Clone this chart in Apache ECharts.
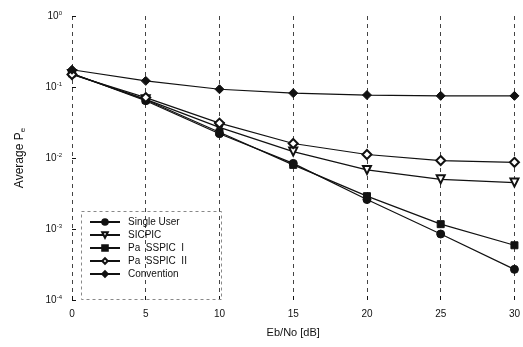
<!DOCTYPE html>
<html>
<head>
<meta charset="utf-8">
<script src="https://cdn.jsdelivr.net/npm/echarts@6/dist/echarts.min.js"></script>
<style>
    html, body { margin: 0; padding: 0; background: #fff; }
    #chart { width: 523px; height: 347px; }
</style>
</head>
<body>
<div id="chart"></div>
<script>
// Eb/No 取值
var snr = [0, 5, 10, 15, 20, 25, 30];
// 各曲线平均误码率
var singleUser = [0.155, 0.064, 0.022, 0.0084, 0.0026, 0.00085, 0.00027];
var sicpic = [0.152, 0.067, 0.027, 0.0123, 0.0068, 0.0050, 0.0045];
var paSspic1 = [0.155, 0.066, 0.023, 0.0080, 0.0029, 0.00117, 0.00059];
var paSspic2 = [0.150, 0.071, 0.031, 0.016, 0.0112, 0.0092, 0.0087];
var conventional = [0.175, 0.122, 0.093, 0.082, 0.077, 0.075, 0.075];
var names = ['Single User', 'SICPIC', 'Pa  SSPIC  I', 'Pa  SSPIC  II', 'Convention'];

(function() {
    var font = 'Liberation Sans, Arial, sans-serif';

    var pairs = function(vals) {
        return vals.map(function(v, i) { return [snr[i], v]; });
    };

    var makeSeries = function(name, vals, symbol, size, rotate) {
        return {
            name: name,
            type: 'line',
            data: pairs(vals),
            symbol: symbol,
            symbolSize: size,
            symbolRotate: rotate || 0,
            lineStyle: { color: '#111', width: 1.2 },
            itemStyle: { color: '#111', borderColor: '#111', borderWidth: 1 },
            emphasis: { disabled: true },
            z: 3
        };
    };

    var option = {
        animation: false,
        backgroundColor: '#fff',
        grid: { left: 72, right: 2, top: 16, bottom: 47 },
        legend: {
            orient: 'vertical',
            left: 84,
            top: 212,
            itemGap: 3,
            itemWidth: 30,
            itemHeight: 7,
            data: names,
            textStyle: { fontFamily: font, fontSize: 10, color: '#111', padding: [0, 0, 0, 3] }
        },
        graphic: [{
            type: 'rect',
            left: 79,
            top: 209,
            shape: { width: 140, height: 88 },
            style: { fill: 'none', stroke: '#888', lineWidth: 1, lineDash: [3, 3] },
            z: 1
        }],
        xAxis: {
            type: 'value',
            min: 0,
            max: 30,
            interval: 5,
            name: 'Eb/No [dB]',
            nameLocation: 'middle',
            nameGap: 27,
            nameTextStyle: { fontFamily: font, fontSize: 11, color: '#111' },
            axisLine: { show: false },
            axisTick: { show: true, inside: true, length: 4, lineStyle: { color: '#111' } },
            axisLabel: { fontFamily: font, fontSize: 10, color: '#111', margin: 9 },
            splitLine: { show: true, lineStyle: { color: '#444', width: 1, type: [4, 4] } }
        },
        yAxis: {
            type: 'log',
            logBase: 10,
            min: 0.0001,
            max: 1,
            name: 'Average P{e|e}',
            nameLocation: 'middle',
            nameGap: 46,
            nameRotate: 90,
            nameTextStyle: {
                fontFamily: font, fontSize: 12, color: '#111',
                rich: { e: { fontFamily: font, fontSize: 8, color: '#111', padding: [0, 0, -6, 0] } }
            },
            axisLine: { show: false },
            axisTick: { show: true, inside: true, length: 4, lineStyle: { color: '#111' } },
            splitLine: { show: false },
            axisLabel: {
                fontFamily: font,
                fontSize: 10,
                color: '#111',
                margin: 10,
                formatter: function(v) {
                    var e = Math.round(Math.log10(v));
                    return '10{s|' + (e === 0 ? '0' : e) + '}';
                },
                rich: { s: { fontFamily: font, fontSize: 6, color: '#111', padding: [0, 0, 6, 0] } }
            }
        },
        series: [
            makeSeries(names[0], singleUser, 'circle', 8),
            makeSeries(names[1], sicpic, 'emptyTriangle', 8, 180),
            makeSeries(names[2], paSspic1, 'rect', 7),
            makeSeries(names[3], paSspic2, 'emptyDiamond', 9),
            makeSeries(names[4], conventional, 'diamond', 9)
        ]
    };

    var myChart = echarts.init(document.getElementById('chart'));
    myChart.setOption(option);
})();
</script>
</body>
</html>
